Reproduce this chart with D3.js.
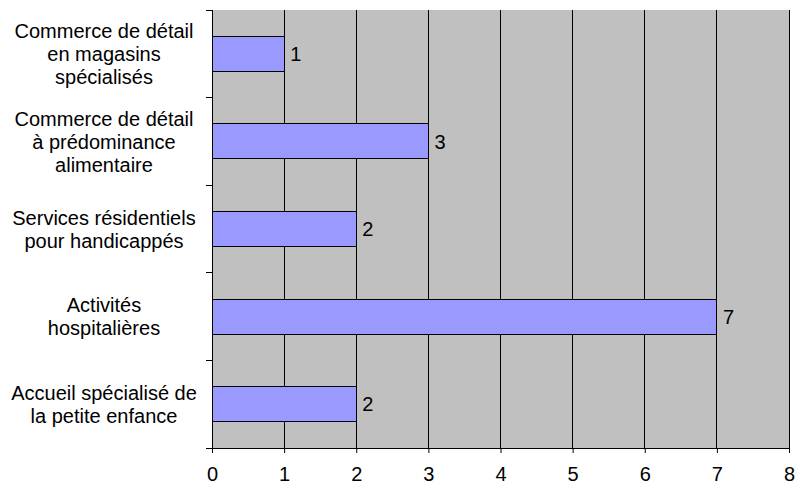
<!DOCTYPE html>
<html><head><meta charset="utf-8">
<script src="https://cdn.jsdelivr.net/npm/d3@7"></script>
<style>body{margin:0;background:#fff}svg{display:block}text{font-family:"Liberation Sans",Arial,sans-serif}</style>
</head><body>
<svg id="c" width="795" height="486"></svg>
<script>
const categories = [
  ["Commerce de détail","en magasins","spécialisés"],
  ["Commerce de détail","à prédominance","alimentaire"],
  ["Services résidentiels","pour handicappés"],
  ["Activités","hospitalières"],
  ["Accueil spécialisé de","la petite enfance"]
];
const values = [1,3,2,7,2];
const xTicks = [0,1,2,3,4,5,6,7,8];

const svg = d3.select("#c");
const L=212,R=789,T=10,B=448;
const FS=20;
const x = d3.scaleLinear().domain([0,8]).range([L,R]);
const y = d3.scaleBand().domain(d3.range(categories.length)).range([T,B]).paddingInner(0.6).paddingOuter(0.3);
const yb = d3.scaleBand().domain(d3.range(categories.length)).range([T,B]);

svg.append("rect").attr("x",L).attr("y",T).attr("width",R-L).attr("height",B-T).attr("fill","#c0c0c0");
svg.append("g").selectAll("line").data(xTicks.slice(1)).join("line")
  .attr("x1",d=>x(d)).attr("x2",d=>x(d)).attr("y1",T).attr("y2",B).attr("stroke","#000").attr("stroke-width",1).attr("shape-rendering","crispEdges");

svg.append("g").selectAll("rect").data(values).join("rect")
  .attr("x",x(0)).attr("y",(d,i)=>y(i)).attr("width",d=>x(d)-x(0)).attr("height",y.bandwidth())
  .attr("fill","#9999ff").attr("stroke","#000").attr("stroke-width",1).attr("shape-rendering","crispEdges");

svg.append("g").selectAll("text").data(values).join("text")
  .attr("x",d=>x(d)+6).attr("y",(d,i)=>y(i)+y.bandwidth()/2).attr("dy","0.36em")
  .attr("font-size",FS).attr("fill","#000").text(d=>d);

// bottom axis
const xa = svg.append("g").attr("transform",`translate(0,${B})`)
  .call(d3.axisBottom(x).tickValues(xTicks).tickSize(5).tickPadding(14).tickSizeOuter(0));
xa.select(".domain").attr("stroke","#000").attr("d",`M${L-6},0.5H${R}`);
xa.selectAll("text").attr("font-size",FS).attr("font-family","Liberation Sans, Arial, sans-serif").attr("fill","#000");
// left axis ticks at band boundaries
const ya = svg.append("g");
ya.append("line").attr("x1",L).attr("x2",L).attr("y1",T).attr("y2",B+5).attr("stroke","#000").attr("shape-rendering","crispEdges");
ya.selectAll("line.t").data(d3.range(categories.length)).join("line").attr("class","t")
  .attr("x1",L-6).attr("x2",L).attr("y1",d=>yb(d)).attr("y2",d=>yb(d)).attr("stroke","#000").attr("shape-rendering","crispEdges");

const lab = svg.append("g").selectAll("text").data(categories).join("text")
  .attr("text-anchor","middle").attr("font-size",FS).attr("fill","#000");
lab.each(function(lines,i){
  const cy = yb(i)+yb.bandwidth()/2;
  const lh = 23;
  const y0 = cy - (lines.length-1)*lh/2;
  d3.select(this).selectAll("tspan").data(lines).join("tspan")
    .attr("x",104).attr("y",(d,j)=>y0+j*lh).attr("dy","0.36em").text(d=>d);
});
</script>
</body></html>
